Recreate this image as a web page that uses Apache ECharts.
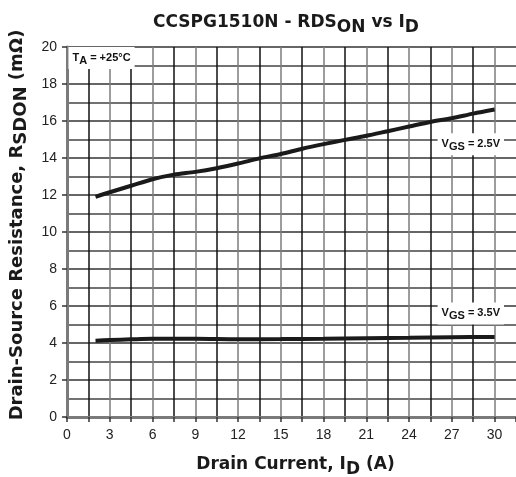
<!DOCTYPE html>
<html>
<head>
<meta charset="utf-8">
<script src="https://cdn.jsdelivr.net/npm/echarts@6/dist/echarts.min.js"></script>
<style>
  html, body { margin: 0; padding: 0; background: #fff; }
  #main { width: 516px; height: 477px; }
</style>
</head>
<body>
<div id="main"></div>
<script>
// drain current (A) and RDS(on) (mOhm)
var idVgs25 = [2, 3, 4.5, 6, 7.5, 9, 10.5, 12, 13.5, 15, 16.5, 18, 19.5, 21, 22.5, 24, 25.5, 27, 28.5, 30];
var rdsVgs25 = [11.9, 12.15, 12.5, 12.85, 13.1, 13.25, 13.45, 13.7, 13.98, 14.22, 14.5, 14.75, 14.98, 15.2, 15.45, 15.7, 15.95, 16.15, 16.4, 16.62];
var idVgs35 = [2, 3, 4.5, 6, 9, 12, 15, 18, 21, 24, 27, 30];
var rdsVgs35 = [4.12, 4.16, 4.2, 4.23, 4.23, 4.2, 4.21, 4.23, 4.26, 4.28, 4.31, 4.33];
var xTickLabels = [0, 3, 6, 9, 12, 15, 18, 21, 24, 27, 30];

function pairs(xs, ys) {
    var out = [];
    for (var i = 0; i < xs.length; i++) { out.push([xs[i], ys[i]]); }
    return out;
}

var font = '"Liberation Sans", Arial, sans-serif';
var boldFont = '"DejaVu Sans", "Liberation Sans", sans-serif';
function richOf(size) {
    return {
        b: { fontSize: size, fontWeight: 'bold', color: '#1a1a1a', fontFamily: boldFont },
        s: { fontSize: size, fontWeight: 'bold', color: '#1a1a1a', fontFamily: boldFont, padding: [9, 0, 0, 0] }
    };
}
var chart = echarts.init(document.getElementById('main'));

chart.setOption({
    animation: false,
    textStyle: { fontFamily: font },
    title: {
        left: 148,
        top: 5,
        text: '{b|CCSPG1510N - RDS}{s|ON}{b| vs I}{s|D}',
        textStyle: { rich: richOf(17) }
    },
    grid: { left: 67, top: 47, right: 0, bottom: 60, containLabel: false, outerBoundsMode: 'none' },
    xAxis: {
        type: 'value',
        min: 0,
        max: 31.5,
        interval: 1.5,
        name: '{b|Drain Current, I}{s|D}{b| (A)}',
        nameLocation: 'middle',
        nameGap: 35,
        nameTextStyle: { rich: richOf(17), padding: [0, 0, 0, 8] },
        axisLine: { show: true, onZero: false, lineStyle: { color: '#7a7a7a', width: 3 } },
        axisTick: { show: true, length: 5, lineStyle: { color: '#333', width: 1.5 } },
        axisLabel: {
            margin: 11,
            fontSize: 14,
            color: '#222',
            formatter: function (v) {
                return xTickLabels.indexOf(v) >= 0 ? String(v) : '';
            }
        },
        splitLine: {
            show: true,
            showMinLine: false,
            showMaxLine: false,
            lineStyle: { color: ['#111', '#7c7c7c'], width: 1.5 }
        }
    },
    yAxis: {
        type: 'value',
        min: 0,
        max: 20,
        interval: 2,
        name: '{b|Drain-Source Resistance, R}{s|SDON}{b| (mΩ)}',
        nameLocation: 'middle',
        nameGap: 35,
        nameTextStyle: { rich: richOf(18), padding: [0, 0, 0, 14] },
        axisLine: { show: true, lineStyle: { color: '#7a7a7a', width: 3 } },
        axisTick: { show: true, length: 5, lineStyle: { color: '#333', width: 1.5 } },
        axisLabel: { margin: 10, fontSize: 14, color: '#222' },
        splitLine: { show: true, showMinLine: false, lineStyle: { color: '#333', width: 1.5 } },
        minorTick: { show: false, splitNumber: 2 },
        minorSplitLine: { show: true, lineStyle: { color: '#444', width: 1.5 } }
    },
    series: [
        {
            name: 'VGS = 2.5V',
            type: 'line',
            data: pairs(idVgs25, rdsVgs25),
            smooth: 0.3,
            symbol: 'none',
            lineStyle: { color: '#1a1a1a', width: 4 },
            z: 5
        },
        {
            name: 'VGS = 3.5V',
            type: 'line',
            data: pairs(idVgs35, rdsVgs35),
            smooth: 0.3,
            symbol: 'none',
            lineStyle: { color: '#1a1a1a', width: 4 },
            z: 5
        }
    ]
});

// annotation boxes placed at data coordinates
function label(xv, yv, text) {
    var p = chart.convertToPixel({ gridIndex: 0 }, [xv, yv]);
    return {
        type: 'text',
        x: p[0],
        y: p[1],
        z: 10,
        style: {
            text: text,
            verticalAlign: 'middle',
            backgroundColor: '#fff',
            padding: [3, 4, 3, 4],
            rich: {
                b: { fontSize: 11, fontWeight: 'bold', fill: '#111', fontFamily: font },
                s: { fontSize: 11, fontWeight: 'bold', fill: '#111', fontFamily: font, padding: [5, 0, 0, 0] }
            }
        }
    };
}

chart.setOption({
    graphic: [
        label(0.1, 19.4, '{b|T}{s|A}{b| = +25°C}'),
        label(26.0, 14.75, '{b|V}{s|GS}{b| = 2.5V}'),
        label(26.0, 5.6, '{b|V}{s|GS}{b| = 3.5V}')
    ]
});
</script>
</body>
</html>
